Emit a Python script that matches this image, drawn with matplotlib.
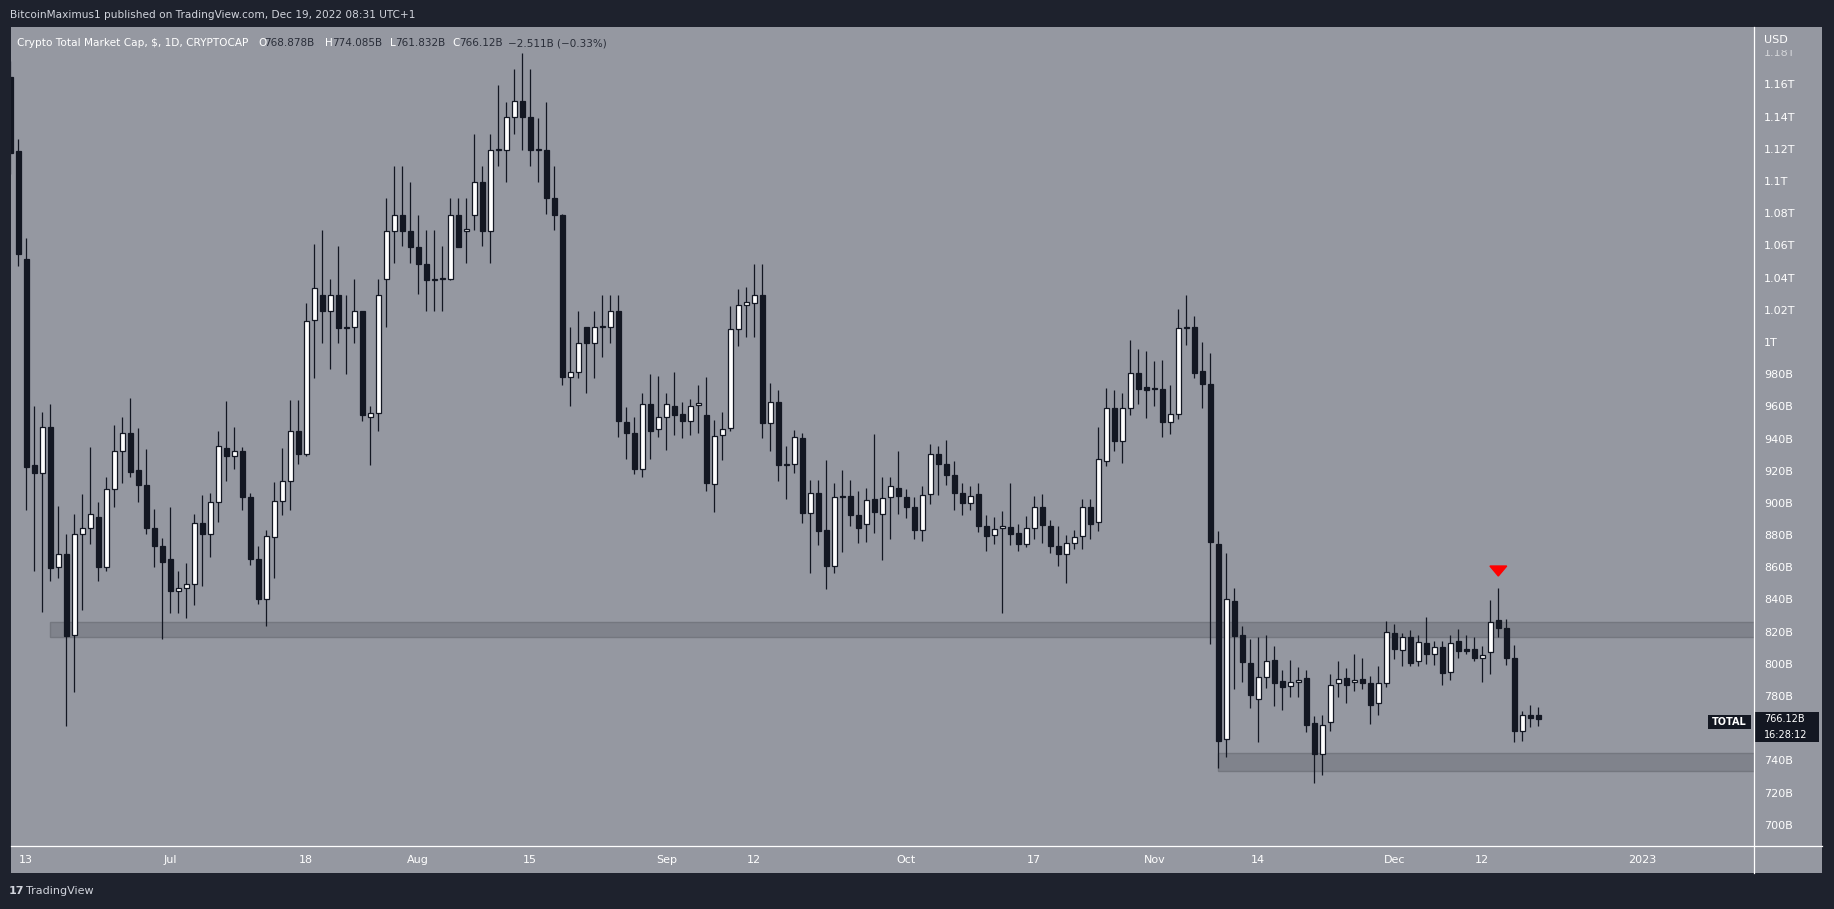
import matplotlib
matplotlib.use('Agg')
import matplotlib.pyplot as plt
import matplotlib.dates as mdates
from matplotlib.patches import Rectangle, Polygon
from matplotlib.lines import Line2D
import numpy as np
import pandas as pd

W, H = 1834, 909

# daily candles of the crypto total market cap, billions of USD
dates = pd.date_range('2022-06-11', '2022-12-19', freq='D')

opens = [
    # Jun 11 - Jun 30
    1165, 1119, 1052, 924, 919.5, 948, 861, 869, 818.5, 881,
    885, 892, 861, 909, 933, 944, 921, 911.5, 885, 874,
    # Jul
    865.6, 846, 848, 850, 888, 881, 901, 935, 929.5, 933,
    904, 866, 841, 879.6, 902, 914, 945, 931, 1014, 1030,
    1019.6, 1029.6, 1009.3, 1009.6, 1019.6, 954.3, 956.3, 1039.6, 1069.8, 1079.8,
    1069.8,
    # Aug
    1059.8, 1049.3, 1039.3, 1039.6, 1039.6, 1079.8, 1069.8, 1079.8, 1099.8, 1069.8,
    1119.7, 1119.7, 1140.3, 1150.3, 1140.3, 1119.7, 1119.7, 1089.8, 1079.8, 979,
    982, 1009.6, 1000, 1009.6, 1009.6, 1019.9, 951, 944, 921.5, 962.3,
    946.3,
    # Sep
    954.3, 961, 955.7, 951.7, 961.2, 955, 912.6, 942.6, 947, 1008.4,
    1023.4, 1025, 1030, 950.5, 963.3, 924, 924.6, 941, 894.6, 906.6,
    884, 861.6, 904.7, 905, 893, 887.3, 902.8, 894, 904, 909.7,
    # Oct
    904, 898, 884, 905.9, 930.8, 925, 918, 907, 900.7, 905.9,
    886, 880.8, 884.8, 885.4, 882, 875, 884.8, 897.8, 886, 874,
    868.6, 876, 879.8, 897.8, 889, 926.4, 959.3, 939.3, 959.3, 981.1,
    972.6,
    # Nov
    972, 971.4, 950.7, 956, 1009, 1009.7, 982.3, 974.3, 874.9, 753.7,
    839.7, 818.5, 801, 779, 792.7, 803, 789.8, 786.7, 789.1, 791.6,
    763.7, 744.6, 764.3, 788.5, 791.6, 789.6, 791, 788.5, 776.1, 789,
    # Dec 1 - Dec 19
    819.6, 809, 817, 802.2, 813.4, 807, 810.9, 795.3, 814.6, 809.6,
    809.6, 804, 807.8, 827.6, 822.7, 804, 759.1, 768.6, 768.878,
]

highs = [
    1175, 1127, 1065, 961, 957, 962, 899, 881, 894, 906,
    935.5, 901, 917, 949, 954, 966, 947, 934, 897, 879,
    898, 858, 863, 894, 905.5, 907, 945, 964, 948, 935.5,
    907, 874, 884, 913.5, 935, 964.6, 964.6, 1025, 1061.5, 1070,
    1040, 1060, 1030, 1040, 1020, 961, 1040, 1090, 1110, 1110,
    1100,
    1079.8, 1070, 1070, 1060, 1089.8, 1089.8, 1089.8, 1129.7, 1109.8, 1129.7,
    1160, 1150, 1170, 1180, 1170, 1140, 1150, 1110, 1080, 1010,
    1020, 1010, 1020, 1030, 1030, 1030, 960, 954, 968.6, 981,
    979.4,
    969, 982, 963.4, 965, 974, 979, 952, 957, 1023, 1033.5,
    1035, 1049, 1049, 975, 971, 936, 946, 944, 915, 915,
    927, 913, 921, 915, 908, 910, 943.4, 917, 917, 933,
    909, 904, 911, 937, 936, 940, 926.6, 913, 911, 913,
    893, 892, 895.6, 913, 887.5, 892.5, 904.7, 906, 890, 886,
    880.6, 884, 903, 903, 948, 972, 971, 968.7, 1002, 996,
    995,
    989, 989.4, 973.7, 1021, 1030, 1017, 1000.6, 993.7, 883, 869.5,
    847.7, 824, 816, 817, 818.5, 812, 796.8, 803, 798.7, 796.8,
    768, 768.8, 794.3, 802.4, 798, 806.7, 804, 793, 799.3, 827,
    825.4, 819.8, 821.6, 818.3, 829.5, 815, 814.6, 818.3, 822, 818.3,
    817, 811.5, 840, 847.5, 828.3, 812.3, 771.3, 775, 774.085,
]

lows = [
    1105, 1048, 896, 858, 833, 852, 854, 762, 783, 834,
    875, 852, 858, 898, 913, 917, 901, 881, 861, 816,
    832, 832, 829, 837, 849, 867, 889, 914, 921.5, 896,
    862, 838, 824, 854, 893, 896, 925, 929.5, 978.5, 1000,
    984, 1000, 981, 1000, 951.7, 924, 945, 1010, 1049.6, 1060.4,
    1049.6,
    1030.5, 1020, 1020, 1020, 1039, 1059.8, 1049.6, 1070.4, 1060.4, 1049.6,
    1110, 1100, 1130, 1120, 1110, 1100, 1080, 1070, 974, 961,
    978, 969, 978, 991, 1000, 941.5, 928, 918.6, 917, 928,
    941.5,
    933.5, 943, 941, 943, 944, 908, 895, 927, 945, 998,
    1004, 1004, 941, 933, 914, 903, 919, 888, 857, 874.5,
    847, 857, 870, 886.5, 875.5, 876.5, 882, 865, 878, 893.5,
    891.5, 878, 877, 900, 905.7, 912, 896, 893, 896, 882.7,
    871, 875, 832.4, 874.6, 871, 873, 878.4, 876, 869.7, 861.6,
    851, 872, 872, 878.4, 883, 923.7, 933, 925.6, 955, 962,
    953.5,
    961, 941.8, 943.6, 953, 999, 978.4, 959.8, 812.7, 736, 743,
    785.2, 789.5, 773.4, 752, 785.8, 774.6, 772, 780, 780.2, 758,
    726.8, 731.6, 758.7, 780.2, 776, 784, 785, 763.5, 769, 786.5,
    803.8, 799.5, 799.5, 799.5, 800.7, 800, 787.7, 790.8, 804.4, 806.9,
    802.6, 789.5, 794.5, 817.3, 800.1, 752.3, 752.9, 761.6, 761.832,
]

closes = [
    1118, 1055, 923, 919, 948, 860, 869, 818, 881, 885,
    894, 861, 909, 932.6, 944, 920, 911.5, 885, 874, 864,
    845.6, 848, 850, 888, 881, 901, 936, 929.5, 933, 904,
    866, 841, 880, 902, 914, 945, 931, 1013.6, 1034, 1019.6,
    1029.6, 1009, 1009.6, 1019.6, 955.4, 956.3, 1029.6, 1069.8, 1079.8, 1069.8,
    1059.8,
    1049.3, 1039.3, 1039.6, 1039.8, 1079.8, 1059.8, 1070, 1099.8, 1069.8, 1119.7,
    1119.9, 1140.3, 1150.3, 1140.3, 1119.7, 1119.9, 1089.8, 1079.8, 979, 982,
    1000, 999.9, 1009.6, 1009.8, 1019.9, 951.4, 944, 921.5, 962.3, 945.4,
    953.7,
    962.3, 955.4, 951.7, 961, 962.5, 913, 942, 946.3, 1008.4, 1023.4,
    1025.2, 1030, 950.5, 963, 924, 924.6, 941.4, 894.6, 906.6, 883.4,
    861.6, 904, 904.1, 893, 885, 902.2, 895, 903.5, 911, 905,
    898, 884, 905.3, 930.8, 925, 918, 907, 900.7, 904.7, 886.4,
    880, 884.2, 886, 881.5, 875.3, 884.8, 897.8, 887, 873.6, 869,
    876, 879.6, 897.8, 887.7, 927.7, 959.3, 939.3, 959.3, 981.1, 971.6,
    971,
    971.4, 951.1, 955.6, 1009, 1009.3, 981.5, 974.3, 876.1, 752.9, 840.7,
    818.1, 802, 781.5, 792.4, 802.2, 789, 786, 789.1, 790.4, 762.8,
    744.6, 762.8, 787.3, 791, 787.7, 789.8, 789, 775.3, 788.5, 820.2,
    809.6, 817.1, 801.3, 814, 806.9, 810.9, 795.1, 813.4, 808.8, 808.8,
    804.4, 806.3, 826.4, 823.1, 804.4, 759.1, 768.6, 767.2, 766.12,
]

# right price scale and bottom time scale
price_ticks = list(range(700, 1181, 20))
time_ticks = ['2022-06-13', '2022-07-01', '2022-07-18', '2022-08-01', '2022-08-15',
              '2022-09-01', '2022-09-12', '2022-10-01', '2022-10-17', '2022-11-01',
              '2022-11-14', '2022-12-01', '2022-12-12', '2023-01-01']
time_labels = ['13', 'Jul', '18', 'Aug', '15', 'Sep', '12', 'Oct', '17', 'Nov',
               '14', 'Dec', '12', '2023']

# support / resistance zones (start date, low, high)
zone_upper = ('2022-06-16', 817.1, 826.4)
zone_lower = ('2022-11-09', 734.3, 745.0)

# bearish signal marker
signal_date = '2022-12-14'
signal_price = 858.3

BG = '#1e222d'
PANEL = '#9598a1'
DARK = '#131722'


def fx(px):
    return px / W


def fy(py):
    return 1 - py / H


fig = plt.figure(figsize=(W / 100, H / 100), dpi=100, facecolor=BG)

# grey chart panel
fig.add_artist(Rectangle((fx(11), fy(873)), fx(1822) - fx(11), fy(27) - fy(873),
                         transform=fig.transFigure, facecolor=PANEL, edgecolor='none', zorder=-1))

ax = fig.add_axes([fx(11), fy(846), fx(1754) - fx(11), fy(27) - fy(846)])
ax.set_facecolor(PANEL)
for s in ax.spines.values():
    s.set_visible(False)
ax.set_xticks([])
ax.set_yticks([])

t0 = mdates.date2num(pd.Timestamp('2022-06-13'))
ax.set_xlim(t0 - 1.9125, t0 + 215.96)
ax.set_ylim(687.45, 1196.3)

o = np.array(opens)
h = np.array(highs)
l = np.array(lows)
c = np.array(closes)
x = mdates.date2num(dates)
up = c >= o
body_low = np.minimum(o, c)
body_h = np.maximum(np.abs(c - o), 0.7)

# zones
for start, lo, hi in (zone_upper, zone_lower):
    xs = mdates.date2num(pd.Timestamp(start))
    ax.add_patch(Rectangle((xs, lo), t0 + 230 - xs, hi - lo, facecolor='#80838c',
                           edgecolor='#74777f', linewidth=1.0, zorder=1))

# candles
ax.vlines(x, l, h, color=DARK, linewidth=0.9, zorder=2)
ax.bar(x[up], body_h[up], bottom=body_low[up], width=0.62, color='white',
       edgecolor=DARK, linewidth=0.9, zorder=3)
ax.bar(x[~up], body_h[~up], bottom=body_low[~up], width=0.62, color=DARK,
       edgecolor=DARK, linewidth=0.9, zorder=3)

# red signal triangle
sx = mdates.date2num(pd.Timestamp(signal_date))
ax.add_patch(Polygon([(sx - 1.05, signal_price + 3.1), (sx + 1.05, signal_price + 3.1),
                      (sx, signal_price - 3.1)], closed=True, color='#ff0000', zorder=4))

last = closes[-1]
tag_lo, tag_hi = last - 14.3, last + 4.3

# price scale labels (the one under the last price tag is hidden)
ytr = ax.get_yaxis_transform()
lab_x = (1764 - 11) / (1754 - 11)
for p in price_ticks:
    if tag_lo - 3 < p < tag_hi + 3:
        continue
    lab = f'{p}B' if p < 1000 else f'{p / 1000:g}T'
    ax.text(lab_x, p, lab, transform=ytr, ha='left', va='center', fontsize=8,
            color='white', alpha=0.6 if p == 1180 else 1.0, clip_on=False)

# time scale labels
xtr = ax.get_xaxis_transform()
for d, lab in zip(time_ticks, time_labels):
    ax.text(mdates.date2num(pd.Timestamp(d)), -0.0171, lab, transform=xtr,
            ha='center', va='center', fontsize=8, color='white', clip_on=False)

# last price tag
ax.add_patch(Rectangle((1.00057, tag_lo), 0.0367, tag_hi - tag_lo, transform=ytr,
                       facecolor=DARK, edgecolor='none', clip_on=False, zorder=5))
ax.text(lab_x, last, f'{last:.2f}B', transform=ytr, ha='left', va='center',
        fontsize=7, color='white', clip_on=False, zorder=6)
ax.text(lab_x, last - 9.9, '16:28:12', transform=ytr, ha='left', va='center',
        fontsize=7, color='white', clip_on=False, zorder=6)
ax.add_patch(Rectangle((0.9736, last - 6.0), 0.0247, 8.7, transform=ytr,
                       facecolor=DARK, edgecolor='none', clip_on=False, zorder=5))
ax.text(0.9736 + 0.01235, last - 1.6, 'TOTAL', transform=ytr, ha='center', va='center',
        fontsize=7, color='white', fontweight='bold', clip_on=False, zorder=6)

# cover above the price scale with the currency label
fig.add_artist(Rectangle((fx(1755), fy(50)), fx(1822) - fx(1755), fy(27) - fy(50),
                         transform=fig.transFigure, facecolor=PANEL, edgecolor='none', zorder=1))
fig.text(fx(1764), fy(40), 'USD', ha='left', va='center', fontsize=8, color='white', zorder=3)

# separator lines
fig.add_artist(Line2D([fx(11), fx(1822)], [fy(846), fy(846)], color='white', lw=0.9, zorder=2))
fig.add_artist(Line2D([fx(1754), fx(1754)], [fy(27), fy(873)], color='white', lw=0.9, zorder=2))

# header
fig.text(fx(10), fy(15), 'BitcoinMaximus1 published on TradingView.com, Dec 19, 2022 08:31 UTC+1',
         ha='left', va='center', fontsize=7.6, color='#d1d4dc')
fig.text(fx(17), fy(43), 'Crypto Total Market Cap, $, 1D, CRYPTOCAP',
         ha='left', va='center', fontsize=7.55, color='white')
ohlc_parts = [(258, 'O', 'white'), (264, '768.878B', '#2a2e39'),
              (325, 'H', 'white'), (332, '774.085B', '#2a2e39'),
              (390, 'L', 'white'), (395, '761.832B', '#2a2e39'),
              (452, 'C', 'white'), (459, '766.12B', '#2a2e39'),
              (508, '\u22122.511B (\u22120.33%)', '#2a2e39')]
for px, txt, col in ohlc_parts:
    fig.text(fx(px), fy(43), txt, ha='left', va='center', fontsize=7.5, color=col)

# footer logo
fig.text(fx(9), fy(891), '17', ha='left', va='center', fontsize=8, color='#d1d4dc',
         fontweight='bold')
fig.text(fx(26), fy(891), 'TradingView', ha='left', va='center', fontsize=8, color='#d1d4dc')

fig.savefig('out.png', dpi=100, facecolor=BG)
